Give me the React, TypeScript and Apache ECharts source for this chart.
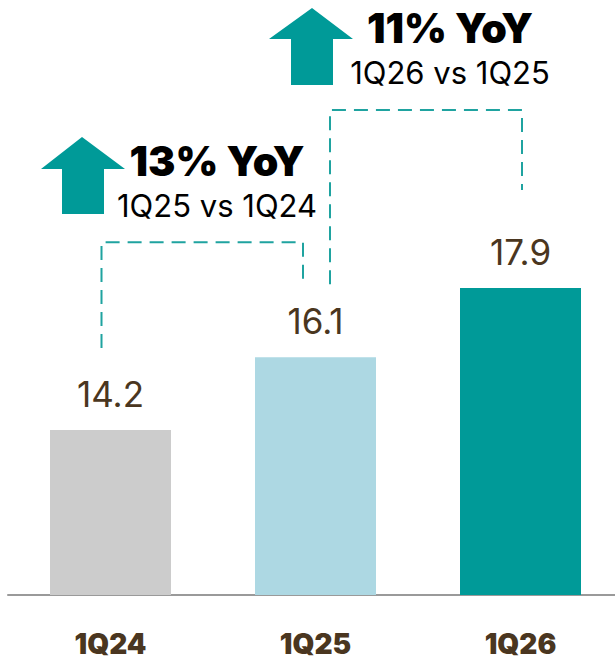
import React, { useEffect, useRef } from "react";
import * as echarts from "echarts";

const categories = ["1Q24", "1Q25", "1Q26"];
const values = [14.2, 16.1, 17.9];
const barColors = ["#cccccc", "#add8e3", "#009a98"];
const yoyTitles = ["13% YoY", "11% YoY"];
const yoySubtitles = ["1Q25 vs 1Q24", "1Q26 vs 1Q25"];

const TEAL = "#009a98";
const BROWN = "#4a3620";
const FONT = "Inter, 'Noto Sans', sans-serif";

export default function App() {
  const ref = useRef<HTMLDivElement>(null);
  useEffect(() => {
    if (!ref.current) return;
    const chart = echarts.init(ref.current, null, { renderer: "svg" });
    chart.setOption({
      animation: false,
      grid: { left: 8, right: 8, top: 19.5, bottom: 68, containLabel: false },
      xAxis: {
        type: "category",
        data: categories,
        axisLine: { show: true, lineStyle: { color: "#9a9a9a", width: 2 } },
        axisTick: { show: false },
        axisLabel: {
          color: BROWN,
          fontSize: 28,
          fontWeight: 900,
          fontFamily: FONT,
          margin: 35,
        },
      },
      yAxis: {
        type: "value",
        min: 9.9,
        max: 24.9,
        show: false,
        splitLine: { show: false },
      },
      series: [
        {
          type: "bar",
          barWidth: 121,
          data: values.map((v, i) => ({ value: v, itemStyle: { color: barColors[i] } })),
          label: {
            show: true,
            position: "top",
            distance: 19,
            color: BROWN,
            fontSize: 35,
            fontFamily: FONT,
            fontWeight: 400,
            formatter: (p: any) => p.value.toFixed(1),
          },
        },
      ],
    });

    const px = values.map((v, i) => chart.convertToPixel({ seriesIndex: 0 }, [i, v]) as number[]);
    const dash = { stroke: "#1fa3a0", lineWidth: 2, lineDash: [14, 8], fill: "none" };
    const lvl1 = px[1][1] - 115;
    const lvl2 = px[2][1] - 178;
    const graphic: any[] = [
      {
        type: "polyline",
        shape: {
          points: [
            [px[0][0] - 9, px[0][1] - 82],
            [px[0][0] - 9, lvl1],
            [px[1][0] - 12.5, lvl1],
            [px[1][0] - 12.5, px[1][1] - 78],
          ],
        },
        style: dash,
      },
      {
        type: "polyline",
        shape: {
          points: [
            [px[1][0] + 14.5, px[1][1] - 73],
            [px[1][0] + 14.5, lvl2],
            [px[2][0] + 1.5, lvl2],
            [px[2][0] + 1.5, px[2][1] - 98],
          ],
        },
        style: dash,
      },
      {
        type: "polygon",
        shape: {
          points: [
            [82, 137], [125, 169], [104, 169], [104, 214], [62, 214], [62, 169], [41, 169],
          ],
        },
        style: { fill: TEAL },
      },
      {
        type: "polygon",
        shape: {
          points: [
            [312, 8], [353, 39], [333, 39], [333, 85], [291, 85], [291, 39], [269, 39],
          ],
        },
        style: { fill: TEAL },
      },
      {
        type: "text",
        x: 217,
        y: 161,
        style: {
          text: yoyTitles[0],
          fill: "#000",
          font: `900 41px ${FONT}`,
          textAlign: "center",
          textVerticalAlign: "middle",
        },
      },
      {
        type: "text",
        x: 217,
        y: 205.5,
        style: {
          text: yoySubtitles[0],
          fill: "#000",
          font: `400 31px ${FONT}`,
          textAlign: "center",
          textVerticalAlign: "middle",
        },
      },
      {
        type: "text",
        x: 450,
        y: 27.5,
        style: {
          text: yoyTitles[1],
          fill: "#000",
          font: `900 41px ${FONT}`,
          textAlign: "center",
          textVerticalAlign: "middle",
        },
      },
      {
        type: "text",
        x: 450,
        y: 72.5,
        style: {
          text: yoySubtitles[1],
          fill: "#000",
          font: `400 31px ${FONT}`,
          textAlign: "center",
          textVerticalAlign: "middle",
        },
      },
    ];
    chart.setOption({ graphic });
    return () => chart.dispose();
  }, []);
  return (
    <div
      style={{
        position: "fixed",
        left: 0,
        top: 0,
        width: 615,
        height: 663,
        overflow: "hidden",
        background: "#fff",
      }}
    >
      <div ref={ref} style={{ width: 631, height: 663 }} />
    </div>
  );
}
